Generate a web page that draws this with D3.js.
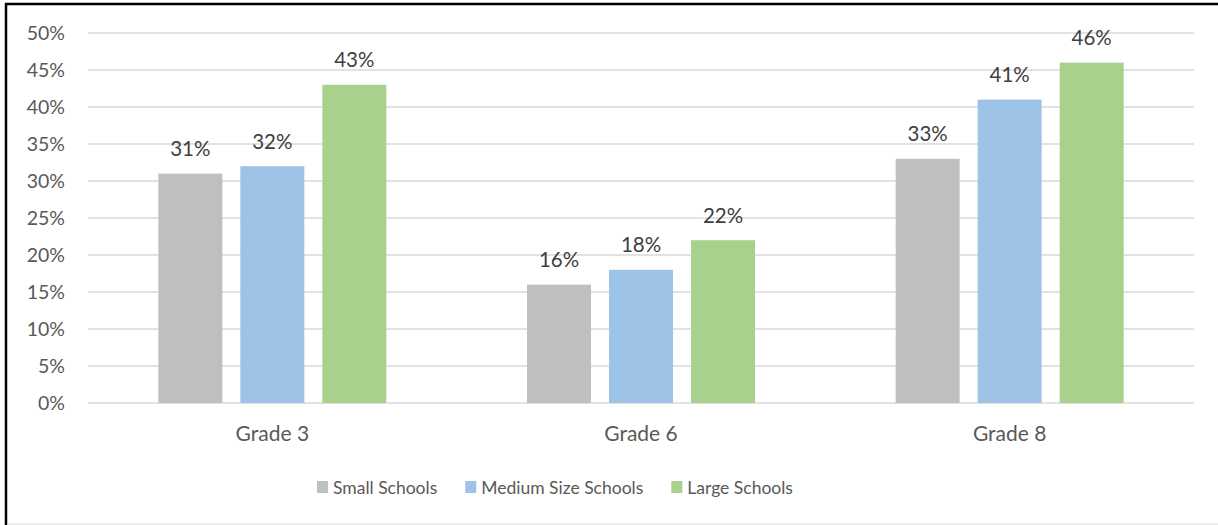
<!DOCTYPE html>
<html>
<head>
<meta charset="utf-8">
<script src="https://cdn.jsdelivr.net/npm/d3@7"></script>
<style>
  body { margin: 0; background: #fff; }
  text { font-family: Lato, "Open Sans", sans-serif; }
</style>
</head>
<body>
<div id="chart"></div>
<script>
const grades = ["Grade 3", "Grade 6", "Grade 8"];
const seriesNames = ["Small Schools", "Medium Size Schools", "Large Schools"];
const small = [31, 16, 33];
const medium = [32, 18, 41];
const large = [43, 22, 46];
const yTicks = [0, 5, 10, 15, 20, 25, 30, 35, 40, 45, 50];
const colors = ["#bfbfbf", "#9dc3e6", "#a9d18e"];

const width = 1218, height = 525;
const svg = d3.select("#chart").append("svg").attr("width", width).attr("height", height);

// frame
svg.append("line").attr("x1", 6).attr("x2", 6).attr("y1", 3).attr("y2", 525)
  .attr("stroke", "#000").attr("stroke-width", 2.5);
svg.append("line").attr("x1", 5).attr("x2", 1218).attr("y1", 4).attr("y2", 4)
  .attr("stroke", "#000").attr("stroke-width", 2.5);
svg.append("line").attr("x1", 7).attr("x2", 1218).attr("y1", 524).attr("y2", 524)
  .attr("stroke", "#d9d9d9").attr("stroke-width", 1);

const x0 = d3.scaleBand().domain(grades).range([88, 1194]);
const x1 = d3.scaleBand().domain(seriesNames).range([0, 228]).paddingInner(0.22);
const y = d3.scaleLinear().domain([0, 50]).range([403, 33]);

// gridlines + y labels
svg.append("g").selectAll("line").data(yTicks).join("line")
  .attr("x1", 88).attr("x2", 1194)
  .attr("y1", d => y(d)).attr("y2", d => y(d))
  .attr("stroke", "#d9d9d9").attr("stroke-width", 1.5);

svg.append("g").selectAll("text").data(yTicks).join("text")
  .attr("x", 65).attr("y", d => y(d) + 7)
  .attr("text-anchor", "end").attr("font-size", 19.5).attr("fill", "#595959")
  .text(d => d + "%");

const series = [small, medium, large];
const groups = svg.append("g").selectAll("g").data(grades).join("g")
  .attr("transform", d => `translate(${x0(d) + (x0.bandwidth() - 228) / 2},0)`);

groups.each(function(g, gi) {
  const sel = d3.select(this);
  seriesNames.forEach((s, si) => {
    const v = series[si][gi];
    sel.append("rect")
      .attr("x", x1(s)).attr("width", x1.bandwidth())
      .attr("y", y(v)).attr("height", y(0) - y(v))
      .attr("fill", colors[si]);
    sel.append("text")
      .attr("x", x1(s) + x1.bandwidth() / 2).attr("y", y(v) - 17.5)
      .attr("text-anchor", "middle").attr("font-size", 20.5).attr("fill", "#404040")
      .text(v + "%");
  });
});

// category labels
svg.append("g").selectAll("text").data(grades).join("text")
  .attr("x", d => x0(d) + x0.bandwidth() / 2).attr("y", 441)
  .attr("text-anchor", "middle").attr("font-size", 21).attr("fill", "#595959")
  .text(d => d);

// legend
const legend = svg.append("g");
let lx = 317;
seriesNames.forEach((s, i) => {
  legend.append("rect").attr("x", lx).attr("y", 481).attr("width", 11).attr("height", 12)
    .attr("fill", colors[i]);
  const t = legend.append("text").attr("x", lx + 16).attr("y", 494)
    .attr("font-size", 17.5).attr("fill", "#595959").text(s);
  lx += 16 + t.node().getComputedTextLength() + 28;
});
</script>
</body>
</html>
